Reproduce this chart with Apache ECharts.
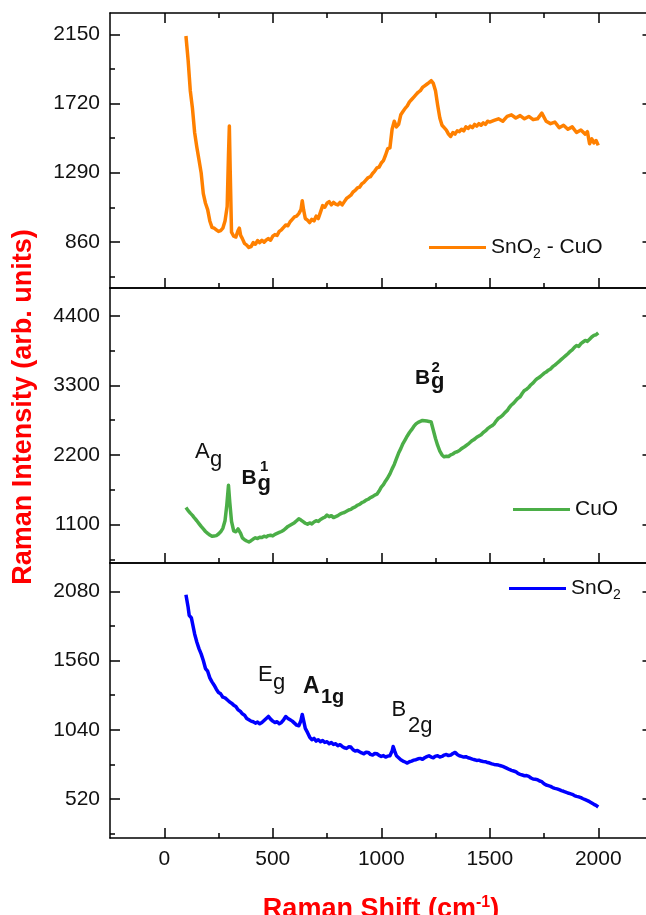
<!DOCTYPE html>
<html>
<head>
<meta charset="utf-8">
<script src="https://cdn.jsdelivr.net/npm/echarts@6/dist/echarts.min.js"></script>
<style>
  html, body { margin: 0; padding: 0; background: #fff; }
  #chart { width: 646px; height: 915px; }
</style>
</head>
<body>
<div id="chart"></div>
<script>
// Raman spectra, [shift (cm-1), intensity]
const snO2CuO = [
  [100,2140],[110,1990],[120,1800],[130,1690],[140,1540],[150,1450],[160,1370],[170,1290],[180,1160],[190,1100],
  [200,1060],[210,990],[220,950],[230,945],[240,935],[250,925],[260,930],[270,945],[280,990],[290,1080],
  [296,1400],[300,1580],[304,1300],[310,920],[320,895],[330,890],[340,930],[346,945],[352,900],[360,880],
  [370,850],[380,840],[390,825],[400,830],[410,855],[420,845],[430,868],[440,855],[450,870],[460,858],
  [470,872],[480,880],[490,870],[500,895],[510,905],[520,900],[530,925],[540,935],[550,950],[560,965],
  [570,960],[580,985],[590,1000],[600,1015],[610,1020],[620,1035],[630,1060],[636,1115],[642,1060],[650,1005],
  [660,995],[670,980],[680,1000],[690,990],[700,1020],[710,1005],[720,1045],[730,1085],[740,1075],[750,1100],
  [760,1110],[770,1090],[780,1105],[790,1095],[800,1090],[810,1105],[820,1090],[830,1110],[840,1130],[850,1140],
  [860,1150],[870,1170],[880,1180],[890,1195],[900,1200],[910,1220],[920,1230],[930,1245],[940,1260],[950,1265],
  [960,1285],[970,1300],[980,1320],[990,1325],[1000,1350],[1010,1365],[1020,1400],[1030,1440],[1040,1445],[1050,1560],
  [1060,1610],[1070,1575],[1080,1590],[1090,1650],[1100,1670],[1110,1690],[1120,1705],[1130,1730],[1140,1745],[1150,1760],
  [1160,1775],[1170,1790],[1180,1800],[1190,1820],[1200,1830],[1210,1840],[1220,1850],[1230,1862],[1240,1845],[1250,1800],
  [1260,1710],[1270,1630],[1280,1585],[1290,1570],[1300,1555],[1310,1530],[1320,1515],[1330,1540],[1340,1530],[1350,1550],
  [1360,1545],[1370,1560],[1380,1550],[1390,1575],[1400,1565],[1410,1580],[1420,1570],[1430,1590],[1440,1580],[1450,1595],
  [1460,1585],[1470,1600],[1480,1590],[1490,1610],[1500,1605],[1520,1615],[1540,1625],[1560,1610],[1580,1640],[1600,1650],
  [1620,1630],[1640,1645],[1660,1625],[1680,1640],[1700,1620],[1720,1625],[1740,1660],[1760,1610],[1780,1595],[1800,1605],
  [1820,1570],[1840,1585],[1860,1560],[1880,1575],[1900,1540],[1920,1555],[1940,1530],[1950,1545],[1960,1470],[1970,1500],
  [1980,1475],[1990,1490],[2000,1460]
];
const cuO = [
  [100,1370],[110,1320],[120,1280],[130,1245],[140,1200],[150,1160],[160,1115],[170,1070],[180,1030],[190,990],
  [200,960],[210,935],[220,915],[230,920],[240,925],[250,950],[260,985],[270,1040],[280,1160],[288,1400],
  [296,1720],[302,1450],[310,1150],[320,1000],[330,985],[340,1030],[345,1045],[352,960],[360,890],[370,860],
  [380,840],[390,825],[400,845],[410,870],[420,890],[430,880],[440,900],[450,895],[460,915],[470,905],
  [480,925],[490,930],[500,920],[510,945],[520,960],[530,975],[540,990],[550,1010],[560,1040],[570,1070],
  [580,1090],[590,1110],[600,1130],[610,1160],[620,1190],[630,1170],[640,1145],[650,1120],[660,1105],[670,1125],
  [680,1110],[690,1140],[700,1160],[710,1150],[720,1180],[730,1200],[740,1215],[750,1250],[760,1225],[770,1240],
  [780,1210],[790,1225],[800,1240],[810,1265],[820,1280],[830,1290],[840,1310],[850,1330],[860,1340],[870,1365],
  [880,1380],[890,1405],[900,1420],[910,1445],[920,1460],[930,1485],[940,1500],[950,1525],[960,1540],[970,1565],
  [980,1580],[990,1630],[1000,1690],[1010,1730],[1020,1790],[1030,1840],[1040,1900],[1050,1980],[1060,2050],[1070,2140],
  [1080,2230],[1090,2300],[1100,2380],[1110,2440],[1120,2500],[1130,2555],[1140,2600],[1150,2650],[1160,2690],[1170,2715],
  [1180,2730],[1190,2745],[1200,2740],[1210,2735],[1220,2730],[1230,2720],[1240,2590],[1250,2460],[1260,2350],[1270,2260],
  [1280,2200],[1290,2170],[1300,2180],[1310,2175],[1320,2200],[1330,2215],[1340,2240],[1350,2250],[1360,2270],[1370,2300],
  [1380,2320],[1390,2345],[1400,2370],[1410,2400],[1420,2430],[1430,2450],[1440,2480],[1450,2500],[1460,2520],[1470,2555],
  [1480,2580],[1490,2615],[1500,2640],[1510,2660],[1520,2690],[1530,2740],[1540,2780],[1550,2800],[1560,2830],[1570,2870],
  [1580,2900],[1590,2950],[1600,2990],[1610,3020],[1620,3060],[1630,3095],[1640,3120],[1650,3175],[1660,3220],[1670,3240],
  [1680,3270],[1690,3310],[1700,3340],[1710,3380],[1720,3410],[1730,3430],[1740,3460],[1750,3490],[1760,3510],[1770,3540],
  [1780,3560],[1790,3595],[1800,3620],[1810,3650],[1820,3680],[1830,3710],[1840,3740],[1850,3770],[1860,3800],[1870,3835],
  [1880,3860],[1890,3900],[1900,3930],[1910,3915],[1920,3960],[1930,3985],[1940,4010],[1950,3995],[1960,4030],[1970,4065],
  [1980,4090],[1990,4100],[2000,4130]
];
const snO2 = [
  [100,2055],[105,2040],[110,1960],[115,1900],[120,1905],[125,1880],[130,1870],[140,1760],[150,1700],[160,1650],
  [170,1610],[180,1560],[190,1500],[200,1480],[210,1430],[220,1400],[230,1375],[240,1345],[250,1320],[260,1310],
  [270,1285],[280,1280],[290,1265],[300,1250],[310,1240],[320,1225],[330,1215],[340,1190],[350,1180],[360,1160],
  [370,1150],[380,1125],[390,1115],[400,1105],[410,1100],[420,1090],[430,1098],[440,1085],[450,1095],[460,1110],
  [470,1125],[480,1140],[490,1120],[500,1105],[510,1095],[520,1100],[530,1085],[540,1095],[550,1115],[560,1140],
  [570,1125],[580,1115],[590,1105],[600,1090],[610,1075],[620,1070],[630,1110],[636,1155],[642,1110],[650,1050],
  [660,1020],[670,985],[680,965],[690,975],[700,955],[710,965],[720,950],[730,960],[740,945],[750,950],
  [760,935],[770,945],[780,930],[790,935],[800,920],[810,928],[820,915],[830,905],[840,900],[850,912],[860,910],
  [870,890],[880,880],[890,885],[900,875],[910,866],[920,860],[930,872],[940,870],[950,855],[960,850],[970,862],
  [980,860],[990,848],[1000,840],[1010,846],[1020,835],[1030,842],[1040,845],[1050,880],[1055,915],[1062,880],
  [1070,845],[1080,830],[1090,815],[1100,805],[1110,798],[1120,790],[1130,800],[1140,805],[1150,812],[1160,815],
  [1170,822],[1180,825],[1190,818],[1200,830],[1210,838],[1220,845],[1230,835],[1240,830],[1250,842],[1260,845],
  [1270,836],[1280,840],[1290,850],[1300,855],[1310,846],[1320,850],[1330,862],[1340,870],[1350,855],[1360,845],
  [1370,840],[1380,835],[1390,838],[1400,830],[1410,826],[1420,820],[1430,815],[1440,810],[1450,812],[1460,805],
  [1470,802],[1480,800],[1490,794],[1500,790],[1510,784],[1520,780],[1530,778],[1540,775],[1550,770],[1560,765],
  [1570,758],[1580,750],[1590,742],[1600,735],[1610,730],[1620,725],[1630,712],[1640,705],[1650,700],[1660,695],
  [1670,696],[1680,690],[1690,678],[1700,670],[1710,668],[1720,665],[1730,655],[1740,650],[1750,635],[1760,625],
  [1770,620],[1780,615],[1790,606],[1800,600],[1810,596],[1820,590],[1830,583],[1840,578],[1850,572],[1860,565],
  [1870,560],[1880,555],[1890,546],[1900,540],[1910,536],[1920,530],[1930,522],[1940,515],[1950,508],[1960,500],
  [1970,490],[1980,480],[1990,472],[2000,460]
];

const xMajor = [0, 500, 1000, 1500, 2000];
const xMinor = [250, 750, 1250, 1750];
const topMajor = [860, 1290, 1720, 2150];
const topMinor = [645, 1075, 1505, 1935];
const midMajor = [1100, 2200, 3300, 4400];
const midMinor = [550, 1650, 2750, 3850];
const botMajor = [520, 1040, 1560, 2080];
const botMinor = [260, 780, 1300, 1820];

const FONT = '"Liberation Sans", Arial, sans-serif';
const panels = [
  { name: 'SnO2 - CuO', data: snO2CuO, color: '#FF8000', min: 573, max: 2283, major: topMajor, minor: topMinor, top: 13,
    legend: { left: 429, top: 234 } },
  { name: 'CuO', data: cuO, color: '#4BAE47', min: 492, max: 4839, major: midMajor, minor: midMinor, top: 288,
    legend: { left: 513, top: 496 } },
  { name: 'SnO2', data: snO2, color: '#0000FF', min: 227, max: 2293, major: botMajor, minor: botMinor, top: 563,
    legend: { left: 509, top: 575 } }
];

const line = { show: true, onZero: false, lineStyle: { color: '#000', width: 1.5 } };
const noLine = { show: false, onZero: false };
function tick (vals, len) {
  return { show: true, inside: true, length: len, customValues: vals, lineStyle: { color: '#000', width: 1.5 } };
}
const plain = v => String(v);

const grid = [], xAxis = [], yAxis = [], series = [], legend = [];
panels.forEach((p, i) => {
  grid.push({ left: 110, width: 542.5, top: p.top, height: 275, outerBoundsMode: 'none', containLabel: false });
  const xBase = { type: 'value', gridIndex: i, min: -250, max: 2250, splitLine: { show: false } };
  const yBase = { type: 'value', gridIndex: i, min: p.min, max: p.max, splitLine: { show: false } };
  const xi = xAxis.length, yi = yAxis.length;
  xAxis.push(Object.assign({}, xBase, {
    position: 'bottom', axisLine: line, axisTick: tick(xMajor, 10),
    axisLabel: { show: i === 2, customValues: xMajor, formatter: plain, fontSize: 21, fontFamily: FONT, color: '#111', margin: 11 }
  }));
  xAxis.push(Object.assign({}, xBase, { position: 'bottom', axisLine: noLine, axisTick: tick(xMinor, 5), axisLabel: { show: false } }));
  xAxis.push(Object.assign({}, xBase, {
    position: 'top', axisLine: line, axisTick: i === 0 ? tick(xMajor, 10) : { show: false }, axisLabel: { show: false }
  }));
  if (i === 0) {
    xAxis.push(Object.assign({}, xBase, { position: 'top', axisLine: noLine, axisTick: tick(xMinor, 5), axisLabel: { show: false } }));
  }
  yAxis.push(Object.assign({}, yBase, {
    position: 'left', axisLine: line, axisTick: tick(p.major, 10),
    axisLabel: { customValues: p.major, formatter: plain, fontSize: 21, fontFamily: FONT, color: '#111', margin: 10 }
  }));
  yAxis.push(Object.assign({}, yBase, { position: 'left', axisLine: noLine, axisTick: tick(p.minor, 5), axisLabel: { show: false } }));
  yAxis.push(Object.assign({}, yBase, { position: 'right', axisLine: line, axisTick: tick(p.major, 10), axisLabel: { show: false } }));
  yAxis.push(Object.assign({}, yBase, { position: 'right', axisLine: noLine, axisTick: tick(p.minor, 5), axisLabel: { show: false } }));

  series.push({
    name: p.name, type: 'line', xAxisIndex: xi, yAxisIndex: yi, data: p.data,
    showSymbol: false, symbol: 'none', color: p.color,
    lineStyle: { color: p.color, width: 3.5, join: 'round' }, animation: false
  });
  legend.push({
    data: [p.name], left: p.legend.left, top: p.legend.top + 3, itemWidth: 57, itemHeight: 3, itemGap: 0,
    icon: 'rect', padding: 0, selectedMode: false,
    formatter: n => n.indexOf('O2') < 0 ? '{n|' + n + '}' : n.split('O2').map(s => '{n|' + (s || ' ') + '}').join('{n|O}{s|2}'),
    textStyle: {
      fontFamily: FONT, fontSize: 21, color: '#111',
      rich: {
        n: { fontSize: 21, fontFamily: FONT, color: '#111', lineHeight: 28 },
        s: { fontSize: 14, fontFamily: FONT, color: '#111', lineHeight: 14, verticalAlign: 'bottom' }
      }
    }
  });
});

// peak labels: [text, left x, baseline y, size, bold]
const peakText = [
  ['A', 195, 460, 22, false], ['g', 210, 468, 22, false],
  ['B', 241.5, 485, 21, true], ['1', 260, 472, 15, true], ['g', 257.5, 492, 22, true],
  ['B', 415, 385, 21, true], ['2', 431.5, 373, 15, true], ['g', 431, 390, 22, true],
  ['E', 258, 683, 22, false], ['g', 273, 691, 22, false],
  ['A', 303, 695, 23, true], ['1g', 321, 704, 20, true],
  ['B', 391.5, 718, 22, false], ['2g', 408, 734, 22, false]
];
const graphic = peakText.map(([t, x, b, fs, bold]) => ({
  type: 'text', x: x, y: b - 0.347 * fs,
  style: { text: t, fontSize: fs, fontWeight: bold ? 'bold' : 'normal', fontFamily: FONT, fill: '#111', verticalAlign: 'middle' }
}));
graphic.push({
  type: 'text', x: 24, y: 407, rotation: Math.PI / 2,
  style: { text: 'Raman Intensity (arb. units)', fontSize: 27, fontWeight: 'bold', fontFamily: FONT, fill: '#FF0000',
    align: 'center', verticalAlign: 'middle' }
});
graphic.push({
  type: 'text', x: 381, y: 910,
  style: {
    text: '{n|Raman Shift (cm}{s|-1}{n|)}', align: 'center', verticalAlign: 'middle',
    rich: {
      n: { fontSize: 27, fontWeight: 'bold', fontFamily: FONT, fill: '#FF0000', lineHeight: 30 },
      s: { fontSize: 16, fontWeight: 'bold', fontFamily: FONT, fill: '#FF0000', lineHeight: 16, verticalAlign: 'top' }
    }
  }
});

const chart = echarts.init(document.getElementById('chart'), null, { renderer: 'canvas' });
chart.setOption({
  backgroundColor: '#fff',
  animation: false,
  grid, xAxis, yAxis, series, legend, graphic
});
</script>
</body>
</html>
